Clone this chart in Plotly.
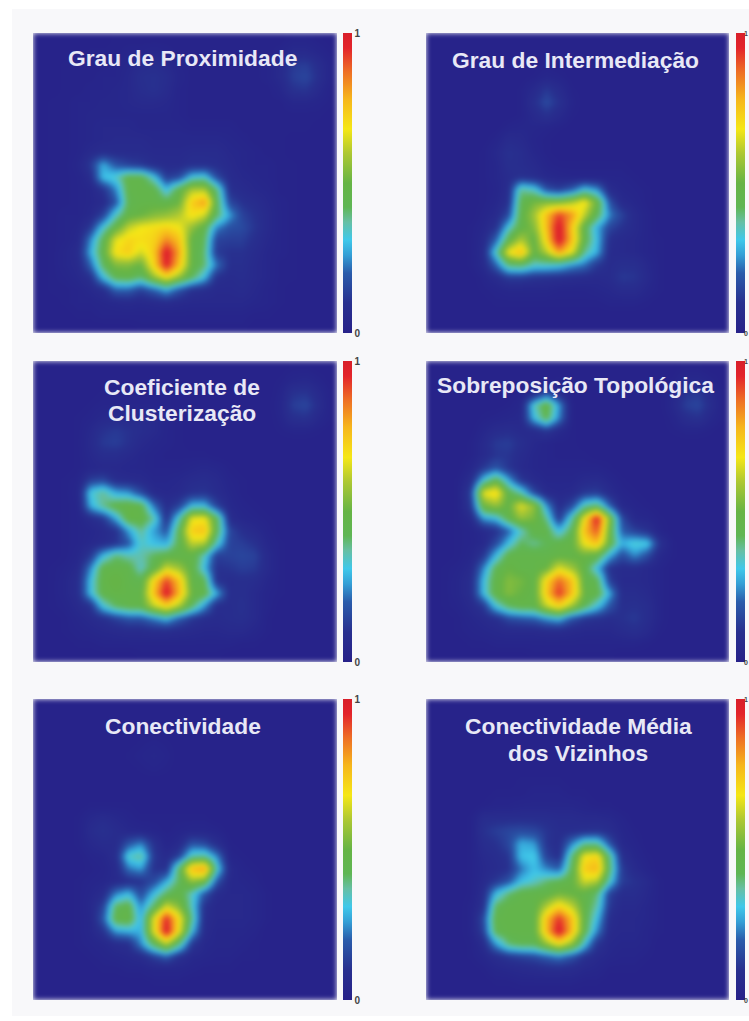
import plotly.graph_objects as go

W, H = 749, 1021

proximidade = [
[1,1,1,1,1,1,2,2,2,2,2,2,2,2,2,2,2,2,2,2,3,3,2,1],
[1,1,1,1,2,2,2,3,3,4,3,2,2,2,2,2,2,2,2,3,6,6,4,2],
[1,1,2,2,2,2,3,4,7,8,6,3,2,2,2,2,2,2,3,6,12,13,8,3],
[1,1,2,2,2,3,3,5,9,10,8,4,2,2,2,2,2,2,3,6,13,15,9,3],
[1,1,2,2,3,3,4,5,8,10,7,3,2,2,2,2,2,2,2,4,10,11,6,2],
[1,2,2,3,3,4,4,5,6,6,5,3,2,2,2,2,2,2,2,2,4,4,3,2],
[1,2,2,3,4,4,4,4,4,4,4,3,2,2,2,2,2,2,2,2,2,2,2,1],
[1,2,2,3,4,5,5,5,4,4,4,4,3,3,3,3,2,2,2,2,2,2,1,1],
[1,2,2,3,4,5,6,6,6,5,5,5,5,5,5,4,3,2,2,2,1,1,1,1],
[1,2,2,3,6,8,7,7,7,6,6,6,7,7,7,5,4,3,2,2,1,1,1,1],
[1,2,2,4,12,28,18,14,12,8,7,7,9,9,8,6,4,3,3,2,2,1,1,1],
[1,2,2,3,7,30,34,46,46,32,13,16,32,34,16,7,5,4,3,2,2,1,1,1],
[1,2,2,3,4,10,24,46,47,46,30,46,60,60,40,9,7,5,4,2,2,1,1,1],
[1,2,2,3,4,6,18,44,47,47,46,50,74,82,44,15,10,8,5,3,2,1,1,1],
[1,2,3,3,5,14,34,47,50,54,56,60,70,64,42,26,14,10,6,3,2,1,1,1],
[1,2,3,4,12,32,48,62,68,70,72,68,56,46,24,17,16,11,6,3,2,1,1,1],
[1,2,3,5,24,44,66,72,70,72,84,76,48,42,14,13,13,9,5,3,2,1,1,1],
[1,2,4,7,28,46,70,74,64,74,100,80,48,40,12,10,10,7,4,3,2,1,1,1],
[1,2,4,6,20,42,54,54,50,72,98,76,48,40,22,9,9,6,4,2,2,1,1,1],
[1,2,3,5,9,30,44,46,40,56,68,56,42,30,9,7,8,6,4,2,2,1,1,1],
[1,2,2,3,5,8,20,20,14,20,28,18,10,8,6,6,7,5,3,2,1,1,1,1],
[1,1,2,3,3,4,5,6,5,6,7,6,5,5,5,5,5,4,3,2,1,1,1,1],
[1,1,1,2,2,3,3,3,3,3,3,3,3,3,3,3,3,2,2,1,1,1,1,1],
[1,1,1,1,1,1,1,1,2,2,2,2,2,2,2,2,2,1,1,1,1,1,1,1],
]

intermediacao = [
[1,1,1,1,1,1,1,1,1,1,1,1,1,1,1,1,1,1,1,1,1,1,1,1],
[1,1,1,1,1,1,1,1,1,1,1,1,1,1,1,1,1,1,1,1,1,1,1,1],
[1,1,1,1,1,1,1,1,1,2,1,1,1,1,1,1,1,1,1,1,1,1,1,1],
[1,1,1,1,1,1,1,1,2,4,3,1,1,1,1,1,1,1,1,1,1,1,1,1],
[1,1,1,1,1,1,1,2,6,12,7,2,1,1,1,1,1,1,1,1,1,1,1,1],
[1,1,1,1,1,1,1,2,9,16,10,3,1,1,1,1,1,1,1,1,1,1,1,1],
[1,1,1,1,1,1,1,2,6,10,6,2,1,1,1,1,1,1,1,1,1,1,1,1],
[1,1,1,1,1,1,3,4,4,3,2,1,1,1,1,1,1,1,1,1,1,1,1,1],
[1,1,1,1,1,3,7,6,3,2,1,1,1,1,1,1,1,1,1,1,1,1,1,1],
[1,1,1,1,2,5,10,8,4,2,1,1,1,1,1,1,1,1,1,1,1,1,1,1],
[1,1,1,1,2,4,9,8,6,3,2,2,2,2,2,2,1,1,1,1,1,1,1,1],
[1,1,1,1,2,4,7,10,8,5,4,3,3,3,3,3,2,1,1,1,1,1,1,1],
[1,1,1,1,2,3,8,38,34,18,14,20,32,26,7,4,3,2,1,1,1,1,1,1],
[1,1,1,1,2,4,10,44,52,54,54,60,70,50,18,6,4,2,1,1,1,1,1,1],
[1,1,1,1,3,6,16,46,58,76,92,82,62,44,24,14,6,3,1,1,1,1,1,1],
[1,1,1,2,4,10,32,47,54,76,100,74,46,28,15,10,6,3,1,1,1,1,1,1],
[1,1,1,2,6,20,46,60,48,72,100,76,46,30,9,6,5,3,2,1,1,1,1,1],
[1,1,1,2,7,34,68,78,48,60,80,66,38,28,7,6,5,3,2,1,1,1,1,1],
[1,1,1,2,6,20,40,42,34,34,32,26,22,12,7,9,9,5,2,1,1,1,1,1],
[1,1,1,1,3,7,13,13,11,10,9,8,7,6,7,12,11,6,2,1,1,1,1,1],
[1,1,1,1,2,3,4,4,4,4,3,3,3,4,5,7,7,4,2,1,1,1,1,1],
[1,1,1,1,1,2,2,2,2,2,2,2,2,2,3,3,3,2,1,1,1,1,1,1],
[1,1,1,1,1,1,1,1,1,1,1,1,1,1,1,1,1,1,1,1,1,1,1,1],
[1,1,1,1,1,1,1,1,1,1,1,1,1,1,1,1,1,1,1,1,1,1,1,1],
]

clusterizacao = [
[1,1,1,1,1,1,1,1,1,1,1,1,1,1,1,1,1,1,1,1,2,2,1,1],
[1,1,1,1,1,1,1,1,1,1,1,1,1,1,1,1,1,1,1,2,4,5,3,1],
[1,1,1,1,1,2,2,2,2,2,2,1,1,1,1,1,1,1,1,3,10,11,6,2],
[1,1,1,1,2,3,3,3,3,3,2,1,1,1,1,1,1,1,1,4,13,15,8,2],
[1,1,1,2,3,5,6,6,7,6,3,2,1,1,1,1,1,1,1,3,9,10,5,2],
[1,1,1,2,5,10,12,10,8,6,3,2,1,1,1,1,1,1,1,2,3,3,2,1],
[1,1,1,2,6,12,13,10,6,4,3,2,1,1,1,1,1,1,1,1,1,1,1,1],
[1,1,1,2,5,8,8,6,4,3,2,2,2,2,1,1,1,1,1,1,1,1,1,1],
[1,1,1,2,4,5,5,4,4,3,3,3,4,5,4,2,1,1,1,1,1,1,1,1],
[1,1,2,3,14,16,8,7,6,4,4,5,7,8,6,3,2,1,1,1,1,1,1,1],
[1,1,2,4,32,38,28,26,16,6,5,6,10,11,7,4,2,1,1,1,1,1,1,1],
[1,1,2,3,28,38,46,48,46,22,8,14,30,30,14,5,3,2,1,1,1,1,1,1],
[1,1,2,3,7,12,28,48,48,36,10,34,66,68,44,7,4,3,2,1,1,1,1,1],
[1,1,2,3,4,6,10,26,38,26,18,44,74,76,44,15,9,6,3,1,1,1,1,1],
[1,1,2,3,5,7,11,18,34,30,28,44,62,60,34,14,13,10,4,2,1,1,1,1],
[1,1,2,4,12,30,40,36,36,42,46,47,47,34,13,14,15,14,6,2,1,1,1,1],
[1,2,3,6,24,46,47,46,34,46,64,58,47,30,10,11,13,12,6,2,1,1,1,1],
[1,2,4,8,30,47,50,46,44,72,92,76,47,44,10,8,9,8,4,2,1,1,1,1],
[1,2,4,8,30,46,48,47,47,76,100,78,50,46,28,8,9,6,3,2,1,1,1,1],
[1,2,3,6,10,32,42,46,47,62,72,60,42,26,8,8,10,6,3,1,1,1,1,1],
[1,1,2,4,6,9,14,18,18,24,30,20,12,8,7,8,9,6,2,1,1,1,1,1],
[1,1,2,3,4,5,6,7,7,8,8,7,6,5,5,6,6,4,2,1,1,1,1,1],
[1,1,1,2,2,3,3,3,3,3,3,3,3,3,3,3,2,2,1,1,1,1,1,1],
[1,1,1,1,1,1,1,1,2,2,2,2,2,2,2,1,1,1,1,1,1,1,1,1],
]

sobreposicao = [
[1,1,1,1,1,1,1,1,1,1,1,1,1,1,1,1,1,1,1,1,2,2,1,1],
[1,1,1,1,1,1,1,1,1,1,2,1,1,1,1,1,1,1,1,2,5,5,3,1],
[1,1,1,1,1,1,1,2,6,16,7,1,1,1,1,1,1,1,1,4,10,12,6,2],
[1,1,1,1,1,1,2,4,34,48,26,2,1,1,1,1,1,1,1,5,13,15,8,2],
[1,1,1,1,2,3,4,5,30,44,24,2,1,1,1,1,1,1,1,3,8,10,5,2],
[1,1,1,1,4,7,8,6,7,12,6,2,1,1,1,1,1,1,1,2,3,3,2,1],
[1,1,1,2,6,12,13,9,5,3,2,2,1,1,1,1,1,1,1,1,1,1,1,1],
[1,1,1,2,6,11,11,7,4,3,2,2,2,1,1,1,1,1,1,1,1,1,1,1],
[1,1,1,4,12,18,11,6,4,3,3,3,3,3,2,1,1,1,1,1,1,1,1,1],
[1,1,2,8,32,46,28,12,6,4,4,4,6,7,4,2,1,1,1,1,1,1,1,1],
[1,1,2,14,66,72,46,36,16,6,5,6,12,13,7,3,2,1,1,1,1,1,1,1],
[1,1,2,12,50,56,48,66,56,26,8,16,36,42,20,5,3,2,1,1,1,1,1,1],
[1,1,2,6,26,30,46,56,52,38,12,36,68,98,54,16,5,4,2,1,1,1,1,1],
[1,1,2,3,6,10,20,34,46,46,30,44,76,90,50,20,14,10,3,1,1,1,1,1],
[1,1,2,3,5,16,30,42,38,42,46,48,68,76,48,28,34,32,10,2,1,1,1,1],
[1,1,2,4,12,30,46,47,47,46,48,48,50,46,28,16,24,16,5,2,1,1,1,1],
[1,2,3,6,24,44,50,47,47,50,66,58,47,30,10,7,7,5,3,1,1,1,1,1],
[1,2,4,8,30,47,54,52,47,72,88,76,47,44,14,6,6,5,3,1,1,1,1,1],
[1,2,4,8,30,47,54,50,47,74,94,76,50,46,28,8,8,6,3,1,1,1,1,1],
[1,2,3,6,12,32,42,47,47,62,72,58,44,32,18,9,10,8,3,1,1,1,1,1],
[1,1,2,4,6,9,16,18,20,26,30,18,12,10,8,10,12,8,3,1,1,1,1,1],
[1,1,2,3,4,5,6,6,6,7,7,6,5,5,5,7,9,6,2,1,1,1,1,1],
[1,1,1,2,2,3,3,3,3,3,3,3,3,3,3,3,3,2,1,1,1,1,1,1],
[1,1,1,1,1,1,1,1,2,2,2,2,2,2,2,1,1,1,1,1,1,1,1,1],
]

conectividade = [
[1,1,1,1,1,1,1,1,1,1,1,1,1,1,1,1,1,1,1,1,1,1,1,1],
[1,1,1,1,1,1,1,1,1,1,1,1,1,1,1,1,1,1,1,1,1,1,1,1],
[1,1,1,1,1,1,1,1,1,1,1,1,1,1,1,1,1,1,1,1,1,1,1,1],
[1,1,1,1,1,1,1,1,2,3,2,1,1,1,1,1,1,1,1,1,1,1,1,1],
[1,1,1,1,1,1,1,2,3,4,3,1,1,1,1,1,1,1,1,1,1,1,1,1],
[1,1,1,1,1,1,1,1,2,3,2,1,1,1,1,1,1,1,1,1,1,1,1,1],
[1,1,1,1,1,1,1,1,1,1,1,1,1,1,1,1,1,1,1,1,1,1,1,1],
[1,1,1,1,1,1,1,1,1,1,1,1,1,1,1,1,1,1,1,1,1,1,1,1],
[1,1,1,1,2,2,2,2,1,1,1,1,1,1,1,1,1,1,1,1,1,1,1,1],
[1,1,1,2,5,7,5,3,2,2,2,2,2,2,1,1,1,1,1,1,1,1,1,1],
[1,1,1,2,7,10,7,5,4,3,2,3,4,4,3,1,1,1,1,1,1,1,1,1],
[1,1,1,2,5,7,7,18,24,10,3,6,18,16,8,2,1,1,1,1,1,1,1,1],
[1,1,1,1,3,4,8,34,38,12,6,14,36,38,24,3,2,1,1,1,1,1,1,1],
[1,1,1,1,2,3,6,22,26,10,10,42,78,82,34,6,3,2,1,1,1,1,1,1],
[1,1,1,2,3,4,6,8,10,16,28,42,56,50,18,5,4,3,1,1,1,1,1,1],
[1,1,1,2,4,7,24,30,16,30,42,47,34,18,7,5,5,4,2,1,1,1,1,1],
[1,1,1,2,5,14,42,46,24,42,64,54,34,10,5,5,5,4,2,1,1,1,1,1],
[1,1,1,2,4,18,46,48,28,66,96,70,38,8,5,5,5,4,2,1,1,1,1,1],
[1,1,1,2,4,10,26,28,28,66,100,68,30,7,4,4,4,3,1,1,1,1,1,1],
[1,1,1,2,3,4,7,9,24,44,60,40,12,5,4,4,3,2,1,1,1,1,1,1],
[1,1,1,1,2,3,4,5,7,14,20,10,5,4,3,3,2,2,1,1,1,1,1,1],
[1,1,1,1,1,2,2,3,3,4,4,4,3,2,2,2,1,1,1,1,1,1,1,1],
[1,1,1,1,1,1,1,1,1,2,2,2,1,1,1,1,1,1,1,1,1,1,1,1],
[1,1,1,1,1,1,1,1,1,1,1,1,1,1,1,1,1,1,1,1,1,1,1,1],
]

vizinhos = [
[1,1,1,1,1,1,1,1,1,1,1,1,1,1,1,1,1,1,1,1,1,1,1,1],
[1,1,1,1,1,1,1,1,1,1,1,1,1,1,1,1,1,1,1,1,1,1,1,1],
[1,1,1,1,1,1,1,1,1,1,1,1,1,1,1,1,1,1,1,1,1,1,1,1],
[1,1,1,1,1,1,1,1,1,1,1,1,1,1,1,1,1,1,1,1,1,1,1,1],
[1,1,1,1,1,1,1,1,1,1,1,1,1,1,1,1,1,1,1,1,1,1,1,1],
[1,1,1,1,1,1,1,1,1,1,1,1,1,1,1,1,1,1,1,1,1,1,1,1],
[1,1,1,1,1,1,1,2,2,2,2,1,1,1,1,1,1,1,1,1,1,1,1,1],
[1,1,1,1,1,2,2,2,3,3,3,2,2,1,1,1,1,1,1,1,1,1,1,1],
[1,1,1,1,2,3,3,4,4,4,4,4,3,2,2,1,1,1,1,1,1,1,1,1],
[1,1,1,2,8,8,8,8,8,8,7,7,6,6,5,3,1,1,1,1,1,1,1,1],
[1,1,1,2,10,13,15,16,15,11,8,8,9,10,8,4,2,1,1,1,1,1,1,1],
[1,1,1,2,8,10,15,28,26,11,8,24,38,38,18,5,3,1,1,1,1,1,1,1],
[1,1,1,2,6,8,11,30,32,14,9,40,68,72,40,9,4,2,1,1,1,1,1,1],
[1,1,1,2,5,7,10,22,30,24,20,44,74,78,42,13,6,3,1,1,1,1,1,1],
[1,1,1,2,6,12,18,30,34,40,44,48,64,60,34,13,10,6,2,1,1,1,1,1],
[1,1,1,2,8,30,40,46,47,47,52,50,47,40,14,8,8,5,2,1,1,1,1,1],
[1,1,1,3,10,42,47,47,47,60,72,62,47,36,12,6,6,4,2,1,1,1,1,1],
[1,1,1,3,16,46,47,47,47,76,94,76,47,30,8,5,5,4,2,1,1,1,1,1],
[1,1,1,3,14,44,47,47,47,76,100,76,46,24,6,5,5,3,2,1,1,1,1,1],
[1,1,1,2,7,26,40,44,44,56,68,56,32,11,5,4,4,3,1,1,1,1,1,1],
[1,1,1,2,4,8,12,14,16,20,24,18,10,6,4,3,3,2,1,1,1,1,1,1],
[1,1,1,1,2,4,5,6,7,8,8,7,5,4,2,2,2,1,1,1,1,1,1,1],
[1,1,1,1,1,2,2,3,3,3,3,3,2,2,1,1,1,1,1,1,1,1,1,1],
[1,1,1,1,1,1,1,1,1,1,1,1,1,1,1,1,1,1,1,1,1,1,1,1],
]

panel_values = [proximidade, intermediacao, clusterizacao, sobreposicao, conectividade, vizinhos]
panel_titles = [
    ["Grau de Proximidade"],
    ["Grau de Intermediação"],
    ["Coeficiente de", "Clusterização"],
    ["Sobreposição Topológica"],
    ["Conectividade"],
    ["Conectividade Média", "dos Vizinhos"],
]
title_centres = [(182, [58]), (575, [60]), (182, [387, 413]), (575, [385]), (183, [726]), (578, [726, 753])]
tick_vals = [0, 100]
tick_text = ["0", "1"]

colorscale = [
    [0.00, "#272189"], [0.10, "#28308f"], [0.20, "#2a5cab"], [0.26, "#349fd6"],
    [0.31, "#3fc8ea"], [0.37, "#66bfa4"], [0.42, "#5fb654"], [0.50, "#66b445"],
    [0.60, "#aec832"], [0.68, "#f5e716"], [0.78, "#f6b61c"], [0.87, "#ee6f25"],
    [0.95, "#e3242b"], [1.00, "#d81f2a"],
]

col_px = [(33, 337), (426, 729)]
bar_px = [(343, 352), (736, 745)]
row_px = [(33, 333), (361, 662), (699, 1000)]


def fx(p):
    return p / W


def fy(p):
    return 1 - p / H


fig = go.Figure()
layout_axes = {}
annotations = []
for k, values in enumerate(panel_values):
    c, r = k % 2, k // 2
    x0, x1 = col_px[c]
    y0, y1 = row_px[r]
    n = k + 1
    sfx = "" if n == 1 else str(n)
    fig.add_trace(go.Heatmap(
        z=values, zmin=0, zmax=100, zsmooth="best", colorscale=colorscale,
        xaxis="x" + sfx, yaxis="y" + sfx, hoverinfo="skip",
        colorbar=dict(
            x=fx(bar_px[c][0]), xanchor="left", xref="paper",
            y=fy(y1), yanchor="bottom", yref="paper",
            len=(y1 - y0) / H, lenmode="fraction",
            thickness=bar_px[c][1] - bar_px[c][0], thicknessmode="pixels",
            xpad=0, ypad=0, outlinewidth=0, borderwidth=0,
            tickmode="array", tickvals=tick_vals, ticktext=tick_text,
            ticks="", showticklabels=(c == 0),
            tickfont=dict(family="Liberation Sans", size=10, color="#444444", weight="bold"),
        ),
    ))
    layout_axes["xaxis" + sfx] = dict(domain=[fx(x0), fx(x1)], visible=False, range=[-0.5, 23.5],
                                      anchor="y" + sfx, fixedrange=True)
    layout_axes["yaxis" + sfx] = dict(domain=[fy(y1), fy(y0)], visible=False, range=[23.5, -0.5],
                                      anchor="x" + sfx, fixedrange=True)
    if c == 1:
        for label, yy in zip(tick_text, (y1, y0)):
            annotations.append(dict(
                text=label, x=1, y=fy(yy), xref="paper", yref="paper",
                xanchor="right", yanchor="middle", showarrow=False, borderpad=0,
                font=dict(family="Liberation Sans", size=7, color="#444444", weight="bold"),
            ))

for lines, (cx, ys) in zip(panel_titles, title_centres):
    for line, yy in zip(lines, ys):
        annotations.append(dict(
            text=line, x=fx(cx), y=fy(yy), xref="paper", yref="paper",
            xanchor="center", yanchor="middle", showarrow=False,
            font=dict(family="Liberation Sans", size=22.8, color="#e8e8f6", weight="bold"),
        ))

backdrop = dict(type="rect", xref="paper", yref="paper", layer="below",
                x0=fx(12), x1=1, y0=fy(1016), y1=fy(9),
                fillcolor="#f8f8fa", line=dict(width=0))

fig.update_layout(
    width=W, height=H, margin=dict(l=0, r=0, t=0, b=0, autoexpand=False),
    paper_bgcolor="#ffffff", plot_bgcolor="#272189", showlegend=False,
    annotations=annotations, shapes=[backdrop], **layout_axes,
)

page_css = """
var s = document.createElement('style');
s.textContent = 'html,body{margin:0;padding:0;background:#fff;overflow:hidden}'
  + ' .heatmaplayer image{filter:blur(2.5px)}';
document.head.appendChild(s);
"""
fig.write_html("out.html", config=dict(displayModeBar=False), post_script=page_css)
